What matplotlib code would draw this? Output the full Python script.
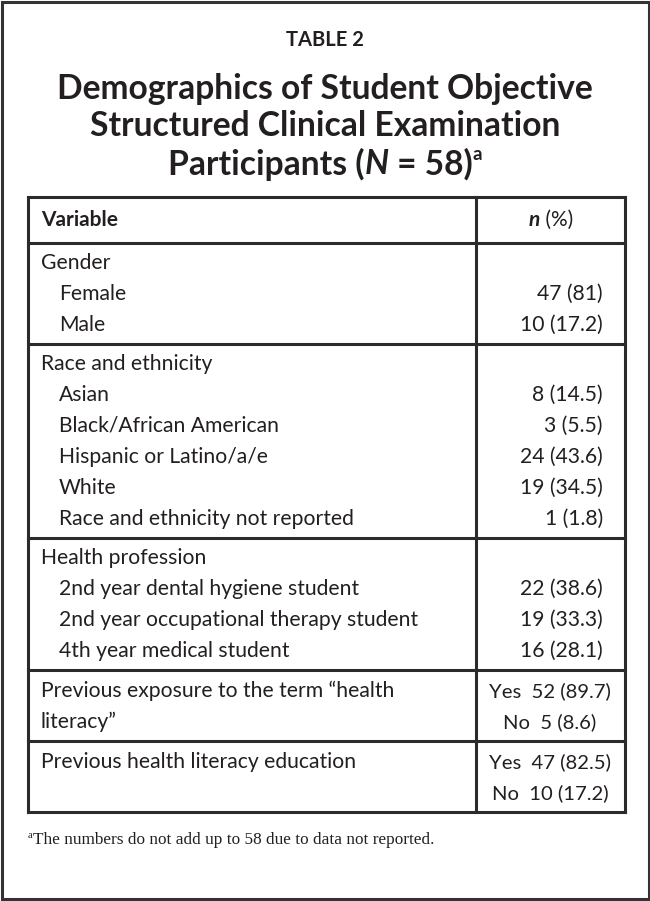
import matplotlib.pyplot as plt

# fonts
body_font = ["Lato", "DejaVu Sans"]
head_font = ["Liberation Sans Narrow", "Lato", "DejaVu Sans"]
note_font = ["Liberation Serif", "DejaVu Serif"]
ink = "#231f20"
rule = "#2b2b2b"

# table data
table_label = "TABLE 2"
title_lines = ["Demographics of Student Objective", "Structured Clinical Examination"]
col_headers = ["Variable", "n (%)"]

gender_labels = ["Female", "Male"]
gender_counts = ["47 (81)", "10 (17.2)"]

race_labels = ["Asian", "Black/African American", "Hispanic or Latino/a/e", "White",
               "Race and ethnicity not reported"]
race_counts = ["8 (14.5)", "3 (5.5)", "24 (43.6)", "19 (34.5)", "1 (1.8)"]

profession_labels = ["2nd year dental hygiene student", "2nd year occupational therapy student",
                     "4th year medical student"]
profession_counts = ["22 (38.6)", "19 (33.3)", "16 (28.1)"]

exposure_text = ["Previous exposure to the term \u201chealth", "literacy\u201d"]
exposure_counts = ["Yes  52 (89.7)", "No  5 (8.6)"]

education_text = ["Previous health literacy education", ""]
education_counts = ["Yes  47 (82.5)", "No  10 (17.2)"]

footnote = "The numbers do not add up to 58 due to data not reported."

fig = plt.figure(figsize=(6.5, 9.01), dpi=100)
ax = fig.add_axes([0, 0, 1, 1])
ax.set_xlim(0, 650)
ax.set_ylim(901, 0)
ax.axis("off")

# outer frame
ax.add_patch(plt.Rectangle((1.5, 1.5), 647, 897, fill=False, edgecolor="#333333", linewidth=2.2))

ax.text(325, 40, table_label, ha="center", va="center", fontsize=14.5, fontweight="bold",
        family=head_font, color=ink)
tsize = 24.2
for i, line in enumerate(title_lines):
    ax.text(325, 89 + i * 37.5, line, ha="center", va="center", fontsize=tsize,
            fontweight="bold", family=body_font, color=ink)

# third title line with italic N and superscript a
fig.canvas.draw()
renderer = fig.canvas.get_renderer()
parts = [("Participants (", "normal", tsize, 0), ("N", "italic", tsize, 0),
         (" = 58)", "normal", tsize, 0), ("a", "normal", 13.5, -9)]
widths = []
for txt, style, size, dy in parts:
    t = ax.text(0, 0, txt, fontsize=size, fontweight="bold", style=style, family=body_font)
    widths.append(t.get_window_extent(renderer).width)
    t.remove()
x = 325 - sum(widths) / 2
for (txt, style, size, dy), w in zip(parts, widths):
    ax.text(x, 164 + dy, txt, ha="left", va="center", fontsize=size, fontweight="bold",
            style=style, family=body_font, color=ink)
    x += w

# table frame
left, right, mid = 28, 625, 476
top, head_bottom = 197, 243
pitch = 31
lw = 2.2

ax.text(41, 220, col_headers[0], ha="left", va="center", fontsize=15, fontweight="bold",
        family=head_font, color=ink)
t1 = ax.text(0, 0, "n", fontsize=15, fontweight="bold", style="italic", family=head_font)
t2 = ax.text(0, 0, " (%)", fontsize=15, family=head_font)
w1 = t1.get_window_extent(renderer).width
w2 = t2.get_window_extent(renderer).width
t1.remove()
t2.remove()
hx = 551 - (w1 + w2) / 2
ax.text(hx, 220, "n", ha="left", va="center", fontsize=15, fontweight="bold", style="italic",
        family=head_font, color=ink)
ax.text(hx + w1, 220, " (%)", ha="left", va="center", fontsize=15, family=head_font, color=ink)

sections = [
    ("Gender", gender_labels, gender_counts),
    ("Race and ethnicity", race_labels, race_counts),
    ("Health profession", profession_labels, profession_counts),
]

fs = 15.2
y_top = head_bottom
lines_y = [top, head_bottom]
for name, labels, counts in sections:
    y = y_top + 20
    ax.text(41, y, name, ha="left", va="center", fontsize=fs, family=body_font, color=ink)
    for lab, cnt in zip(labels, counts):
        y += pitch
        ax.text(59, y, lab, ha="left", va="center", fontsize=fs, family=body_font, color=ink)
        ax.text(603, y, cnt, ha="right", va="center", fontsize=fs, family=body_font, color=ink)
    y_top = y + 19
    lines_y.append(y_top)

for texts, counts in [(exposure_text, exposure_counts), (education_text, education_counts)]:
    y = y_top + 21
    for txt, cnt in zip(texts, counts):
        ax.text(41, y, txt, ha="left", va="center", fontsize=fs, family=body_font, color=ink)
        ax.text(550, y, cnt, ha="center", va="center", fontsize=14.6, family=body_font, color=ink)
        y += pitch
    y_top = y - pitch + 19
    lines_y.append(y_top)

for yy in lines_y:
    ax.plot([left, right], [yy, yy], color=rule, linewidth=lw, solid_capstyle="projecting")
for xx in [left, mid, right]:
    ax.plot([xx, xx], [top, lines_y[-1]], color=rule, linewidth=lw, solid_capstyle="projecting")

# footnote
ax.text(28, 835, "a", ha="left", va="center", fontsize=7.5, family=note_font, color=ink)
ax.text(33, 840, footnote, ha="left", va="center", fontsize=12.4, family=note_font, color=ink)

fig.savefig("out.png", dpi=100, facecolor="white")
